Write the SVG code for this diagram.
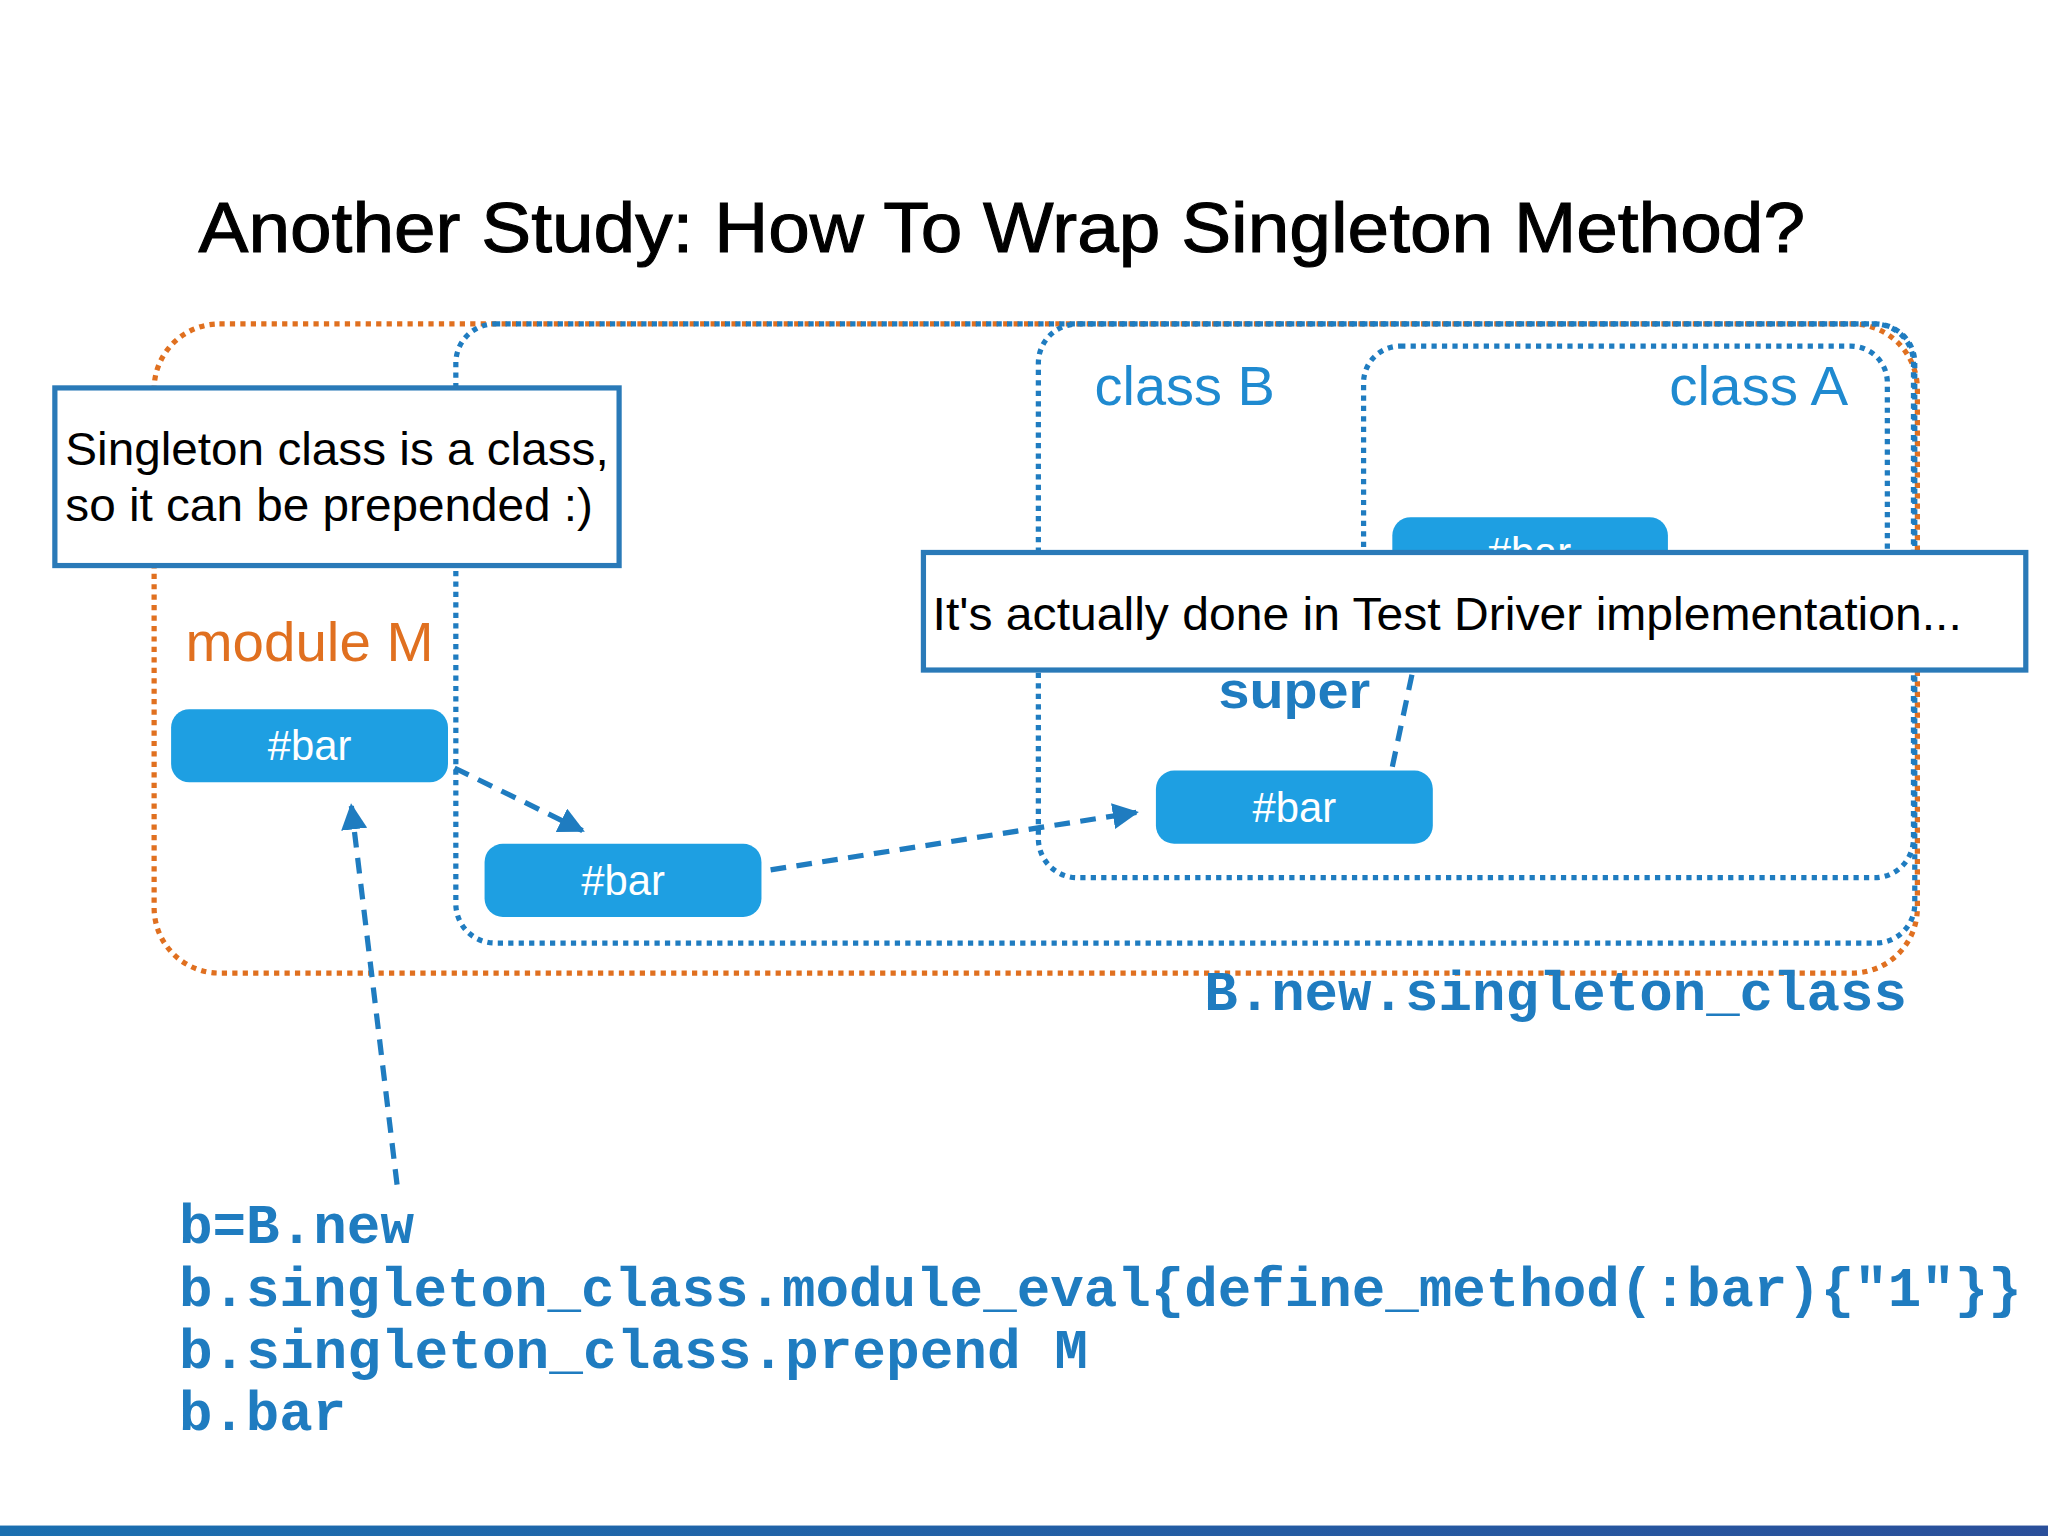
<svg xmlns="http://www.w3.org/2000/svg" width="2048" height="1536" viewBox="0 0 2048 1536">
<defs>
<style>
.o{fill:none;stroke:#e07020;stroke-width:4;stroke-dasharray:4 4}
.b{fill:none;stroke:#1f7cc0;stroke-width:4;stroke-dasharray:4 4}
.bar{fill:#1e9fe2}
.bt{font-family:"Liberation Sans",Arial,sans-serif;font-size:32px;fill:#fff;text-anchor:middle}
.lbl{font-family:"Liberation Sans",Arial,sans-serif;font-size:42px;fill:#1f8ad0}
.code{font-family:"Liberation Mono","Courier New",monospace;font-weight:bold;font-size:42px;fill:#1f7cc0}
.call{fill:#fff;stroke:#2a7ab8;stroke-width:4}
.ct{font-family:"Liberation Sans",Arial,sans-serif;font-size:35px;fill:#000}
.c{fill:none;stroke:#1f7cc0;stroke-width:4;stroke-dasharray:12 8}
</style>
<marker id="a" viewBox="0 0 10 10" refX="9" refY="5" markerWidth="5" markerHeight="5" orient="auto"><path d="M0,0L10,5L0,10z" fill="#1f7cc0"/></marker>
<linearGradient id="g" x1="0" x2="1"><stop offset="0" stop-color="#1a6fb0"/><stop offset="1" stop-color="#2a4f9a"/></linearGradient>
</defs>
<rect width="2048" height="1536" fill="#fff"/>
<g transform="scale(1.30612)">
<text x="152" y="193" font-family="'Liberation Sans',Arial,sans-serif" font-size="54" fill="#000" stroke="#000" stroke-width="0.8" textLength="1230" lengthAdjust="spacingAndGlyphs">Another Study: How To Wrap Singleton Method?</text>
<g id="moduleM"><rect class="o" x="118" y="248" width="1350" height="497" rx="50"/>
<text x="142" y="506" class="lbl" style="fill:#e07020" textLength="190" lengthAdjust="spacingAndGlyphs">module M</text></g>
<g id="singleton"><rect class="b" x="349" y="248" width="1117" height="474" rx="30"/>
<text x="922" y="773" class="code" textLength="538" lengthAdjust="spacingAndGlyphs">B.new.singleton_class</text></g>
<g id="classB"><rect class="b" x="795" y="248" width="670" height="424" rx="30"/>
<text x="838" y="310" class="lbl" textLength="138" lengthAdjust="spacingAndGlyphs">class B</text></g>
<g id="classA"><rect class="b" x="1044" y="265" width="401" height="240" rx="28"/>
<text x="1278" y="310" class="lbl" textLength="137" lengthAdjust="spacingAndGlyphs">class A</text>
<rect class="bar" x="1066" y="396" width="211" height="56" rx="14"/>
<text x="1171" y="434" class="bt">#bar</text></g>
<g id="barM"><rect class="bar" x="131" y="543" width="212" height="56" rx="14"/><text x="237" y="582" class="bt">#bar</text></g>
<g id="barS"><rect class="bar" x="371" y="646" width="212" height="56" rx="14"/><text x="477" y="685" class="bt">#bar</text></g>
<g id="barB"><rect class="bar" x="885" y="590" width="212" height="56" rx="14"/><text x="991" y="629" class="bt">#bar</text></g>
<g id="connectors">
<line class="c" x1="348" y1="588" x2="446" y2="636" marker-end="url(#a)"/>
<line class="c" x1="590" y1="666" x2="870" y2="622" marker-end="url(#a)"/>
<line class="c" x1="1066" y1="587" x2="1082" y2="512"/>
<line class="c" x1="304" y1="907" x2="269" y2="617" marker-end="url(#a)"/>
</g>
<g id="callout1"><rect class="call" x="42" y="297" width="432" height="136"/>
<text x="50" y="356" class="ct" textLength="416" lengthAdjust="spacingAndGlyphs">Singleton class is a class,</text>
<text x="50" y="399" class="ct" textLength="404" lengthAdjust="spacingAndGlyphs">so it can be prepended :)</text></g>
<g id="callout2"><rect class="call" x="707" y="423" width="844" height="90"/>
<text x="714" y="482" class="ct" textLength="788" lengthAdjust="spacingAndGlyphs">It's actually done in Test Driver implementation...</text></g>
<text x="933" y="542" font-family="'Liberation Sans',Arial,sans-serif" font-weight="bold" font-size="40" fill="#1f7cc0" textLength="116" lengthAdjust="spacingAndGlyphs">super</text>
<g id="code">
<text x="137" y="952" class="code" textLength="180" lengthAdjust="spacingAndGlyphs">b=B.new</text>
<text x="137" y="1000" class="code" textLength="1411" lengthAdjust="spacingAndGlyphs">b.singleton_class.module_eval{define_method(:bar){"1"}}</text>
<text x="137" y="1047" class="code" textLength="696" lengthAdjust="spacingAndGlyphs">b.singleton_class.prepend M</text>
<text x="137" y="1095" class="code" textLength="128" lengthAdjust="spacingAndGlyphs">b.bar</text>
</g>
<rect x="0" y="1168" width="1568" height="8" fill="url(#g)"/>
</g>
</svg>
